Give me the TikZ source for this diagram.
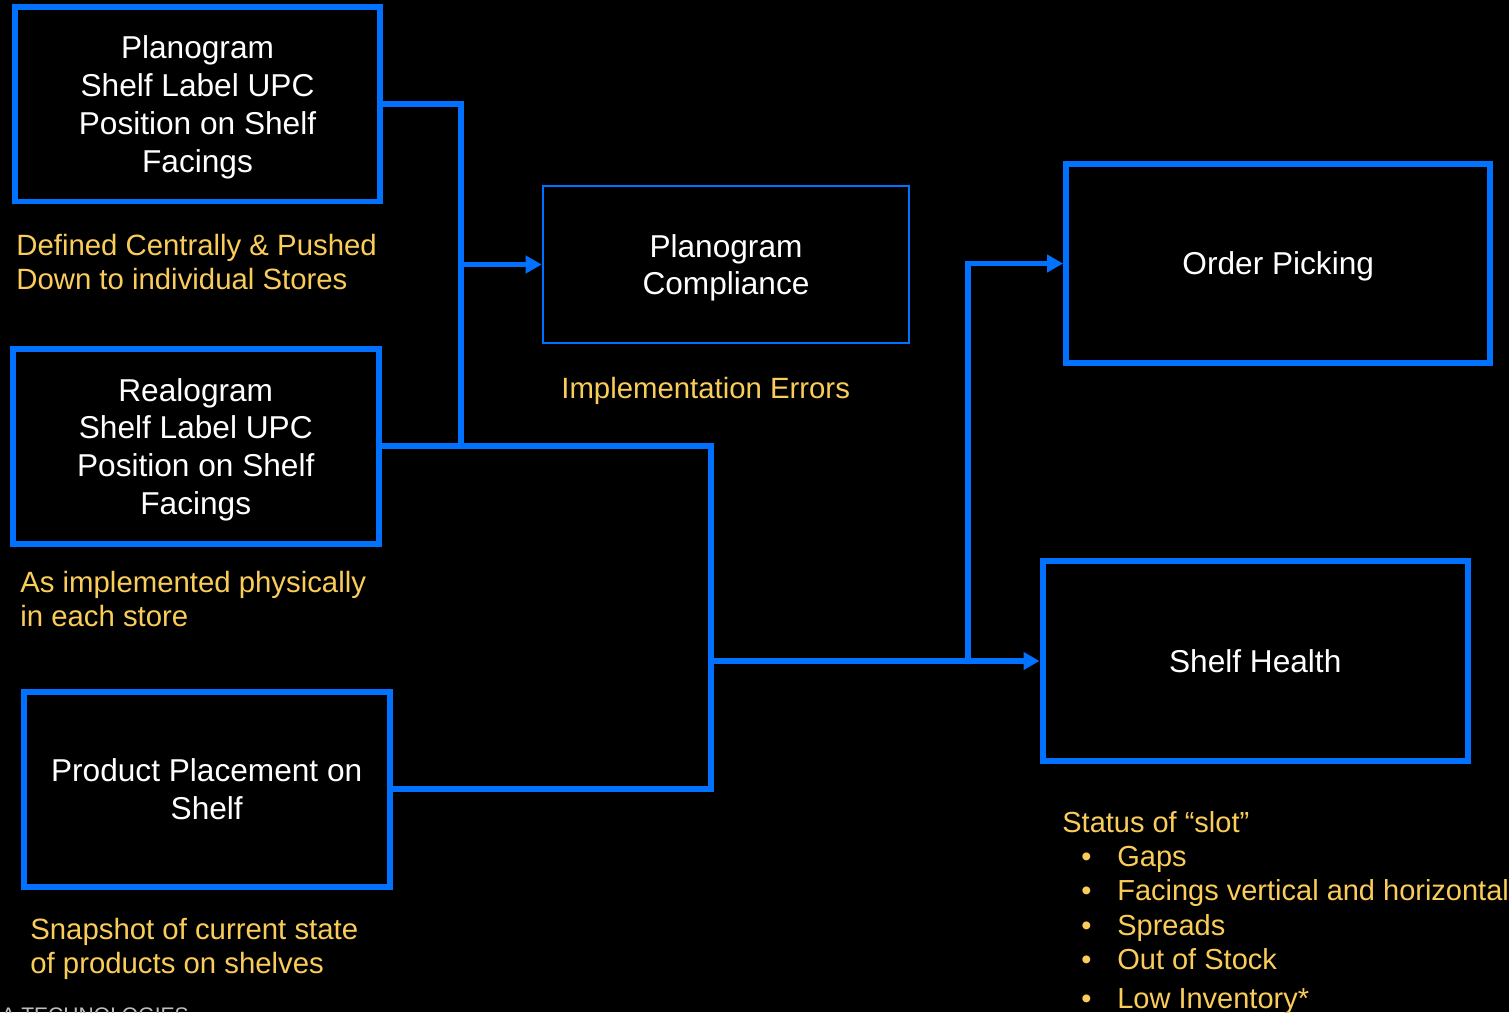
\documentclass[tikz,border=0pt]{standalone}
\usepackage{fontspec}
\setmainfont{Liberation Sans}
\usetikzlibrary{arrows.meta}
\definecolor{boxblue}{RGB}{0,114,255}
\definecolor{noteyellow}{RGB}{250,205,90}
\definecolor{footgray}{RGB}{190,190,190}
\begin{document}
\begin{tikzpicture}[x=0.02cm, y=-0.02cm,
  box/.style={draw=boxblue, line width=3.4pt, text=white, align=center, inner sep=0pt,
    minimum width=7.32cm, minimum height=3.9cm, font=\fontsize{18pt}{21.5pt}\selectfont,
    text depth=-2pt},
  note/.style={text=noteyellow, align=left, inner sep=0pt, anchor=north west,
    font=\fontsize{16.7pt}{19.5pt}\selectfont},
  link/.style={boxblue, line width=3.1pt},
  flow/.style={link, -{Triangle[length=0.32cm, width=0.34cm]}}]
  % Background
  \fill[black] (0,0) rectangle (1509,1012);
  \useasboundingbox (0,0) rectangle (1509,1012);
  % Inputs
  \node[box] (plano) at (197.5,104) {Planogram\\Shelf Label UPC\\Position on Shelf\\Facings};
  \node[box] (realo) at (195.75,446.2) {Realogram\\Shelf Label UPC\\Position on Shelf\\Facings};
  \node[box] (place) at (206.7,789.2) {Product Placement on\\Shelf};
  % Outputs
  \node[box, line width=1.5pt, minimum height=3.14cm] (comply) at (726,264.5) {Planogram\\Compliance};
  \node[box, minimum width=8.49cm, minimum height=3.98cm] (picking) at (1278.25,263.5) {Order Picking};
  \node[box, minimum width=8.51cm, minimum height=4cm] (health) at (1255.25,661) {Shelf Health};
  % Notes
  \node[note] (planonote) at (16,234) {Defined Centrally \& Pushed\\Down to individual Stores};
  \node[note] (realonote) at (20,571) {As implemented physically\\in each store};
  \node[note] (placenote) at (30,918) {Snapshot of current state\\of products on shelves};
  \node[note] (complynote) at (561,377) {Implementation Errors};
  \node[note, font=\fontsize{16.5pt}{19.5pt}\selectfont] (healthnote) at (1062,811) {Status of “slot”\\
    \hspace*{0.38cm}\makebox[0.72cm][l]{•}Gaps\\
    \hspace*{0.38cm}\makebox[0.72cm][l]{•}Facings vertical and horizontal\\
    \hspace*{0.38cm}\makebox[0.72cm][l]{•}Spreads\\
    \hspace*{0.38cm}\makebox[0.72cm][l]{•}Out of Stock\\[3pt]
    \hspace*{0.38cm}\makebox[0.72cm][l]{•}Low Inventory*};
  \node[text=footgray, anchor=base west, inner sep=0pt, font=\fontsize{12pt}{14pt}\selectfont]
    (footer) at (1,1022) {A TECHNOLOGIES};
  % Connectors
  \coordinate (trunk) at (461,446.2);
  \coordinate (hub) at (711,661);
  \coordinate (split) at (968,661);
  \draw[link] (plano.east) -| (trunk);
  \draw[flow] (trunk |- comply.west) -- (comply.west);
  \draw[link] (realo.east) -| (hub) |- (place.east);
  \draw[flow] (hub) -- (health.west);
  \draw[flow] (split) |- (picking.west);
\end{tikzpicture}
\end{document}
